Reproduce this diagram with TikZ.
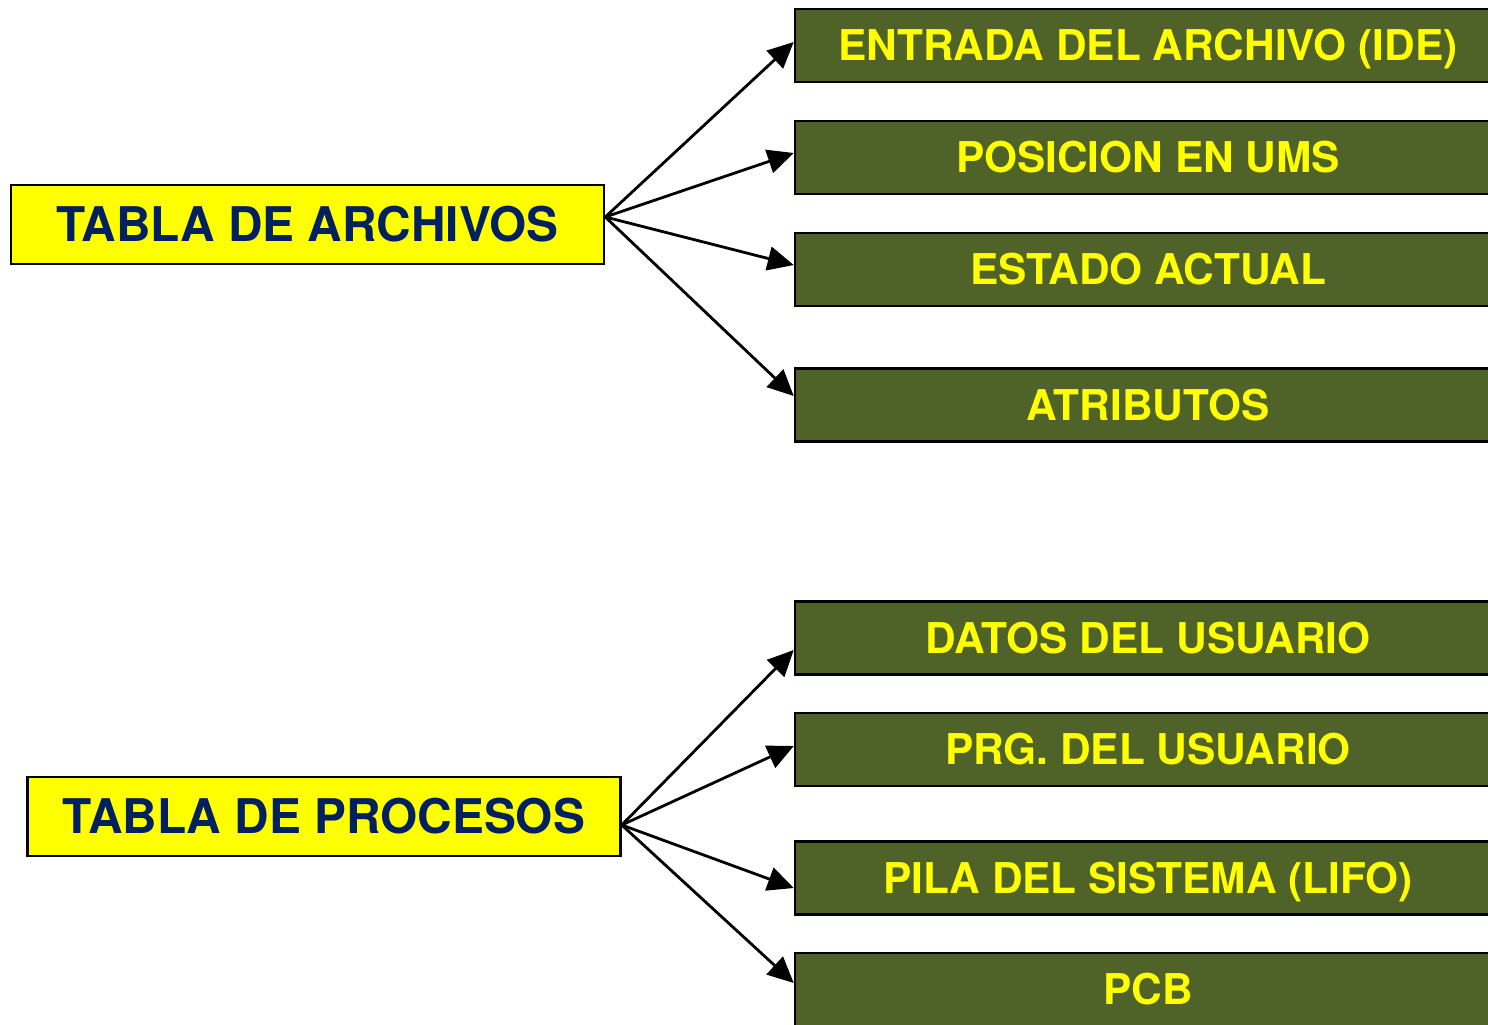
\documentclass[tikz,border=0pt]{standalone}
\usepackage{fontspec}
\setmainfont{TeX Gyre Heros}
\usetikzlibrary{arrows.meta}
\definecolor{navy}{RGB}{0,32,96}
\definecolor{olive}{RGB}{79,98,40}
\definecolor{yel}{RGB}{255,255,0}
\begin{document}
\begin{tikzpicture}[x=1pt,y=-1pt,
  tablebox/.style={draw=black,line width=2.5pt,fill=yel,text=navy,
    font=\fontsize{47.8}{56}\selectfont\bfseries,minimum width=593pt,minimum height=79pt,inner sep=0pt,
    text height=34.3pt,text depth=0pt},
  itembox/.style={draw=black,line width=2.5pt,fill=olive,text=yel,
    font=\fontsize{42.4}{50}\selectfont\bfseries,minimum width=706pt,minimum height=73pt,inner sep=0pt,
    text height=30.4pt,text depth=0pt},
  conn/.style={draw=black,line width=2.8pt,-{Triangle[length=26pt,width=24pt]}}]
\path[use as bounding box,clip] (0,0) rectangle (1488,1025);
\fill[white] (0,0) rectangle (1488,1025);
\node[tablebox] (a1) at (307.5,224.5) {TABLA DE ARCHIVOS};
\node[tablebox] (a2) at (324,816.5) {TABLA DE PROCESOS};
\node[itembox] (g1) at (1148,45.5) {ENTRADA DEL ARCHIVO (IDE)};
\node[itembox] (g2) at (1148,157.5) {POSICION EN UMS};
\node[itembox] (g3) at (1148,269.5) {ESTADO ACTUAL};
\node[itembox] (g4) at (1148,405) {ATRIBUTOS};
\node[itembox] (g5) at (1148,638) {DATOS DEL USUARIO};
\node[itembox] (g6) at (1148,749.5) {PRG. DEL USUARIO};
\node[itembox] (g7) at (1148,878) {PILA DEL SISTEMA (LIFO)};
\node[itembox] (g8) at (1148,989.5) {PCB};
\coordinate (s1) at ([yshift=7.5pt]a1.east);
\coordinate (s2) at ([yshift=-8.5pt]a2.east);
\draw[conn] (s1) -- ([yshift=3.5pt]g1.west);
\draw[conn] (s1) -- ([yshift=4.5pt]g2.west);
\draw[conn] (s1) -- ([yshift=4.5pt]g3.west);
\draw[conn] (s1) -- ([yshift=9pt]g4.west);
\draw[conn] (s2) -- ([yshift=-12pt]g5.west);
\draw[conn] (s2) -- ([yshift=3.5pt]g6.west);
\draw[conn] (s2) -- ([yshift=-10pt]g7.west);
\draw[conn] (s2) -- ([yshift=6.5pt]g8.west);
\end{tikzpicture}
\end{document}
